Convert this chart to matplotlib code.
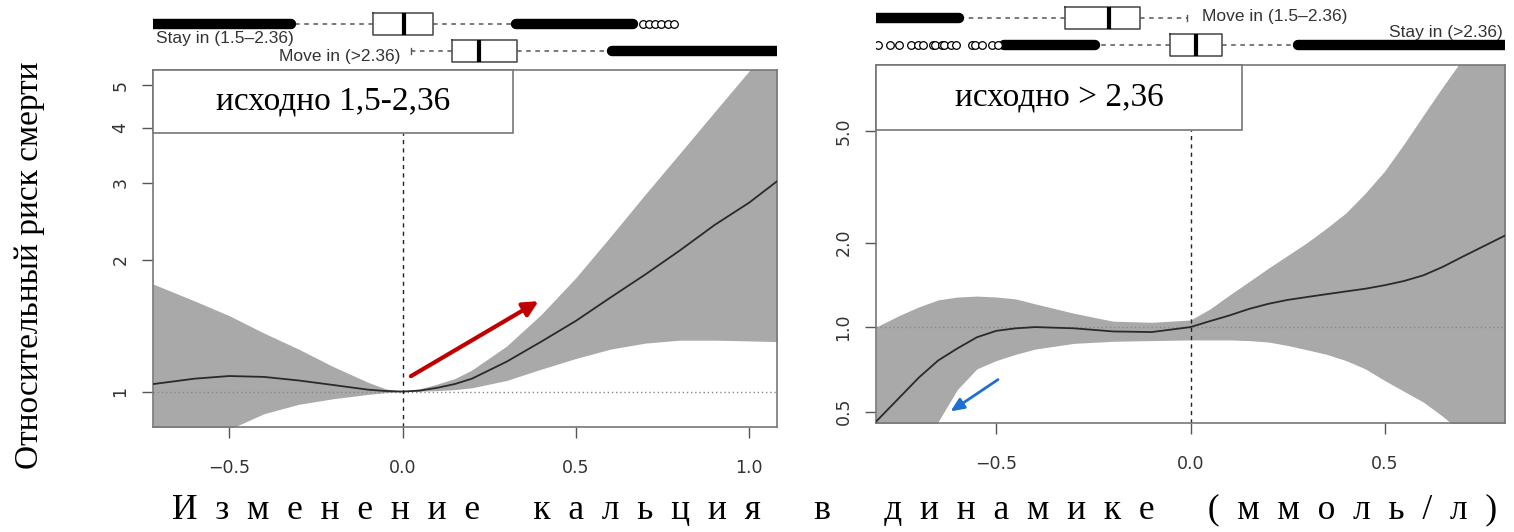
import matplotlib
import matplotlib.pyplot as plt
from matplotlib.patches import Rectangle

matplotlib.use("Agg")

# ---- left panel: baseline 1.5-2.36 ----
left_x = [-0.72, -0.6, -0.5, -0.4, -0.3, -0.2, -0.1, -0.05, 0.0, 0.05, 0.1, 0.15, 0.2,
          0.3, 0.4, 0.5, 0.6, 0.7, 0.8, 0.9, 1.0, 1.08]
left_fit = [1.04, 1.07, 1.085, 1.08, 1.06, 1.035, 1.01, 1.003, 1.0, 1.005, 1.02, 1.04,
            1.07, 1.17, 1.30, 1.45, 1.64, 1.85, 2.1, 2.4, 2.7, 3.02]
left_hi = [1.76, 1.61, 1.49, 1.36, 1.25, 1.14, 1.05, 1.015, 1.0, 1.015, 1.04, 1.07,
           1.12, 1.27, 1.50, 1.82, 2.26, 2.82, 3.5, 4.35, 5.4, 6.6]
left_lo = [0.68, 0.76, 0.82, 0.89, 0.935, 0.963, 0.985, 0.994, 1.0, 1.002, 1.005, 1.01,
           1.02, 1.06, 1.125, 1.19, 1.25, 1.29, 1.31, 1.31, 1.305, 1.30]
left_yticks = [1, 2, 3, 4, 5]
left_xticks = [-0.5, 0.0, 0.5, 1.0]
left_xlim = (-0.72, 1.08)
left_ylim = (0.83, 5.42)

# boxplot summaries above the left panel (q1, med, q3, whisker low, whisker high)
left_box_labels = ["Stay in (1.5\u20132.36)", "Move in (>2.36)"]
left_box_stats = [(-0.084, 0.003, 0.087, -0.321, 0.327), (0.142, 0.22, 0.329, 0.023, 0.604)]
left_dense = [[(-0.72, -0.321), (0.327, 0.665)], [(0.604, 1.08)]]
left_fliers = [[0.694, 0.711, 0.728, 0.746, 0.766, 0.783], []]

# ---- right panel: baseline > 2.36 ----
right_x = [-0.81, -0.75, -0.7, -0.65, -0.6, -0.55, -0.5, -0.45, -0.4, -0.3, -0.2, -0.1,
           0.0, 0.05, 0.1, 0.15, 0.2, 0.25, 0.3, 0.35, 0.4, 0.45, 0.5, 0.55, 0.6, 0.65,
           0.7, 0.81]
right_fit = [0.46, 0.56, 0.66, 0.76, 0.84, 0.92, 0.97, 0.99, 1.0, 0.99, 0.965, 0.96,
             1.0, 1.05, 1.10, 1.16, 1.21, 1.25, 1.28, 1.31, 1.34, 1.37, 1.41, 1.46, 1.53,
             1.64, 1.78, 2.12]
right_hi = [1.0, 1.1, 1.18, 1.25, 1.28, 1.29, 1.28, 1.26, 1.21, 1.12, 1.05, 1.04,
            1.06, 1.16, 1.3, 1.45, 1.62, 1.8, 2.0, 2.25, 2.55, 3.0, 3.6, 4.5, 5.7, 7.2,
            9.0, 14.0]
right_lo = [0.25, 0.30, 0.36, 0.46, 0.60, 0.71, 0.76, 0.80, 0.835, 0.875, 0.89, 0.895,
            0.90, 0.90, 0.90, 0.895, 0.885, 0.86, 0.83, 0.80, 0.76, 0.71, 0.645, 0.59,
            0.54, 0.48, 0.42, 0.33]
right_yticks = [0.5, 1.0, 2.0, 5.0]
right_xticks = [-0.5, 0.0, 0.5]
right_xlim = (-0.81, 0.81)
right_ylim = (0.455, 8.6)

right_box_labels = ["Move in (1.5\u20132.36)", "Stay in (>2.36)"]
right_box_stats = [(-0.322, -0.211, -0.131, -0.595, -0.008), (-0.054, 0.013, 0.082, -0.245, 0.278)]
right_dense = [[(-0.81, -0.595)], [(-0.48, -0.245), (0.278, 0.81)]]
right_fliers = [[], [-0.806, -0.775, -0.752, -0.721, -0.703, -0.688, -0.662, -0.657,
                     -0.639, -0.634, -0.618, -0.603, -0.564, -0.554, -0.536, -0.510, -0.495]]

red_arrow = ((0.017, 1.076), (0.399, 1.62))
blue_arrow = ((-0.49, 0.658), (-0.624, 0.494))

xlabel_words = ["Изменение", "кальция", "в", "динамике", "(ммоль/л)"]

GREY = "#a9a9a9"
FRAME = "#777777"
TXT = "#333333"

fig = plt.figure(figsize=(15.14, 5.32), dpi=100)
W, H = 1514.0, 532.0


def px_axes(x0, y0, x1, y1):
    return fig.add_axes([x0 / W, 1 - y1 / H, (x1 - x0) / W, (y1 - y0) / H])


def main_panel(ax, x, fit, lo, hi, xlim, ylim, yticks, xticks, title, box_w, box_h):
    ax.set_yscale("log")
    ax.fill_between(x, lo, hi, color=GREY, lw=0, zorder=1)
    ax.plot(x, fit, color="#2a2a2a", lw=1.3, zorder=3)
    ax.axhline(1.0, color="#888888", lw=1.0, ls=(0, (1, 2)), zorder=2)
    ax.axvline(0.0, ymin=0, ymax=1 - box_h, color="#222222", lw=1.0, ls=(0, (3, 3)), zorder=2)
    ax.set_xlim(*xlim)
    ax.set_ylim(*ylim)
    ax.set_yticks(yticks)
    ax.set_yticklabels([str(t) if isinstance(t, int) else f"{t:.1f}" for t in yticks],
                       rotation=90, va="center")
    ax.yaxis.set_minor_locator(matplotlib.ticker.NullLocator())
    ax.set_xticks(xticks)
    ax.set_xticklabels([f"{t:.1f}".replace("-", "\u2212") for t in xticks])
    ax.tick_params(length=8, width=1, color="#555555", labelcolor=TXT, labelsize=12.5)
    ax.tick_params(axis="x", pad=15)
    ax.tick_params(axis="y", pad=9)
    for s in ax.spines.values():
        s.set_color(FRAME)
        s.set_linewidth(1.2)
    ax.add_patch(Rectangle((0, 1 - box_h), box_w, box_h, transform=ax.transAxes,
                           facecolor="white", edgecolor=FRAME, lw=1.2, zorder=5,
                           clip_on=False))
    ax.text(box_w / 2, 1 - box_h / 2, title, transform=ax.transAxes, ha="center", va="center",
            family="Liberation Serif", fontsize=24, zorder=6)


def box_strip(ax, xlim, top, rows, stats, dense, fliers):
    ax.set_xlim(*xlim)
    ax.axis("off")
    for r, (q1, med, q3, lo, hi), segs, fl in zip(rows, stats, dense, fliers):
        bxp = [dict(q1=q1, med=med, q3=q3, whislo=lo, whishi=hi, fliers=[])]
        ax.bxp(bxp, positions=[r], widths=[22], orientation="horizontal", showfliers=False,
               boxprops=dict(color="#444444", lw=1.1),
               medianprops=dict(color="black", lw=3),
               whiskerprops=dict(color="#555555", lw=1.1, ls=(0, (3, 3))),
               capprops=dict(color="#555555", lw=1.0), capwidths=[6])
        for a, b in segs:
            ax.plot([a, b], [r, r], color="black", lw=7.5, solid_capstyle="round")
        if fl:
            ax.plot(fl, [r] * len(fl), ls="none", marker="o", ms=5.5, mfc="white",
                    mec="black", mew=0.9)
    ax.set_ylim(top, 0)


axL = px_axes(153, 70, 777, 427)
main_panel(axL, left_x, left_fit, left_lo, left_hi, left_xlim, left_ylim, left_yticks,
           left_xticks, "исходно 1,5-2,36", (513 - 153) / 624, 63 / 357)
axR = px_axes(876, 65, 1505, 423)
main_panel(axR, right_x, right_fit, right_lo, right_hi, right_xlim, right_ylim, right_yticks,
           right_xticks, "исходно > 2,36", (1242 - 876) / 629, 65 / 358)

bL = px_axes(153, 0, 777, 70)
box_strip(bL, left_xlim, 70, [24, 51], left_box_stats, left_dense, left_fliers)
bL.text(-0.71, 38, left_box_labels[0], ha="left", va="center", fontsize=12.5, color=TXT,
        family="Liberation Sans")
bL.text(-0.005, 57, left_box_labels[1], ha="right", va="center", fontsize=12.5, color=TXT,
        family="Liberation Sans")

bR = px_axes(876, 0, 1505, 65)
box_strip(bR, right_xlim, 65, [18, 45], right_box_stats, right_dense, right_fliers)
bR.text(0.03, 17, right_box_labels[0], ha="left", va="center", fontsize=12.5, color=TXT,
        family="Liberation Sans")
bR.text(0.805, 32, right_box_labels[1], ha="right", va="center", fontsize=12.5, color=TXT,
        family="Liberation Sans")

axL.annotate("", xy=red_arrow[1], xytext=red_arrow[0],
             arrowprops=dict(arrowstyle="-|>,head_length=0.9,head_width=0.45", color="#c00000",
                             lw=3), zorder=7)
axR.annotate("", xy=blue_arrow[1], xytext=blue_arrow[0],
             arrowprops=dict(arrowstyle="-|>,head_length=0.8,head_width=0.35", color="#1f6fd0",
                             lw=2), zorder=7)

fig.text(30 / W, 1 - 265 / H, "Относительный риск смерти", rotation=90, ha="center",
         va="center", family="Liberation Serif", fontsize=24)
fig.text(835 / W, 1 - 510 / H, (" " * 6).join("  ".join(w) for w in xlabel_words),
         ha="center", va="center", family="Liberation Serif", fontsize=25.5)

fig.savefig("out.png", dpi=100)
